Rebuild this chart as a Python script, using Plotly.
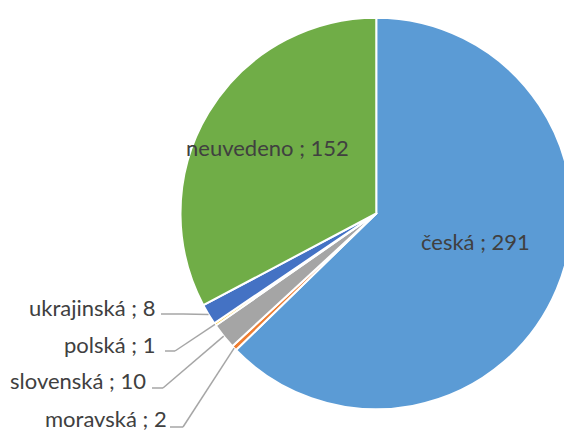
import math
import plotly.graph_objects as go

# ---- data ----
labels = ["česká", "moravská", "slovenská", "polská", "ukrajinská", "neuvedeno"]
values = [291, 2, 10, 1, 8, 152]
colors = ["#5B9BD5", "#ED7D31", "#A5A5A5", "#FFC000", "#4472C4", "#70AD47"]

# ---- layout constants (window pixels) ----
WIN_W, WIN_H = 572, 433
OFF = 8                       # default page body margin
W, H = WIN_W - OFF, WIN_H - OFF
PIE_LEFT, PIE_TOP, PIE_BOTTOM = 180.5, 16.0, 411.0


def fx(x):  # window px -> figure px
    return x - OFF


DOM_X = [fx(PIE_LEFT) / W, 1.0]
DOM_Y = [(H - fx(PIE_BOTTOM)) / H, (H - fx(PIE_TOP)) / H]

# inside label centres (window pixel)
inside_pos = {"česká": (475.5, 242), "neuvedeno": (267.5, 148)}
# outside label: right end x, text centre y, leader start x, elbow x, leader y
outside_pos = {
    "ukrajinská": (157, 307, 161, 183, 314),
    "polská": (157, 344, 165, 175, 351),
    "slovenská": (148, 380, 152, 163, 388),
    "moravská": (169, 418.5, 170, 183, 427),
}

TEXT_COLOR = "#404040"
FONT = "Lato"
FSIZE = 22

fig = go.Figure(go.Pie(
    labels=labels, values=values, sort=False, direction="clockwise", rotation=0,
    marker=dict(colors=colors, line=dict(color="white", width=2)),
    textinfo="none", hoverinfo="skip", showlegend=False,
    domain=dict(x=DOM_X, y=DOM_Y),
))

# geometry derived from domain (plotly: radius = min(w,h)/2, centred in domain)
dw = (DOM_X[1] - DOM_X[0]) * W
dh = (DOM_Y[1] - DOM_Y[0]) * H
R = min(dw, dh) / 2
CX = (DOM_X[0] + DOM_X[1]) / 2 * W
CY = H - (DOM_Y[0] + DOM_Y[1]) / 2 * H


def px2paper(x, y):  # window px -> paper
    return (x - OFF) / W, 1 - (y - OFF) / H


def fig2paper(x, y):  # figure px -> paper
    return x / W, 1 - y / H


total = sum(values)
cum = 0
mid_angle = {}
for lab, v in zip(labels, values):
    mid_angle[lab] = (cum + v / 2) / total * 360
    cum += v

annotations = []
shapes = []
for lab, v in zip(labels, values):
    txt = f"{lab} ; {v}"
    if lab in inside_pos:
        x, y = inside_pos[lab]
        px, py = px2paper(x, y)
        annotations.append(dict(x=px, y=py, xref="paper", yref="paper", text=txt,
                                showarrow=False, xanchor="center", yanchor="middle",
                                font=dict(family=FONT, size=FSIZE, color=TEXT_COLOR)))
    else:
        rx, ty, sx, ex, ly = outside_pos[lab]
        px, py = px2paper(rx, ty)
        annotations.append(dict(x=px, y=py, xref="paper", yref="paper", text=txt,
                                showarrow=False, xanchor="right", yanchor="middle",
                                font=dict(family=FONT, size=FSIZE, color=TEXT_COLOR)))
        a = math.radians(mid_angle[lab])
        tx = CX + R * math.sin(a)
        tyy = CY - R * math.cos(a)
        p1 = px2paper(sx, ly)
        p2 = px2paper(ex, ly)
        p3 = fig2paper(tx, tyy)
        for (xa, ya), (xb, yb) in [(p1, p2), (p2, p3)]:
            shapes.append(dict(type="line", xref="paper", yref="paper",
                               x0=xa, y0=ya, x1=xb, y1=yb,
                               line=dict(color="#A6A6A6", width=1.5)))

fig.update_layout(
    width=W, height=H, autosize=False,
    margin=dict(l=0, r=0, t=0, b=0),
    paper_bgcolor="white", plot_bgcolor="white",
    annotations=annotations, shapes=shapes,
)

fig.write_html("out.html")
